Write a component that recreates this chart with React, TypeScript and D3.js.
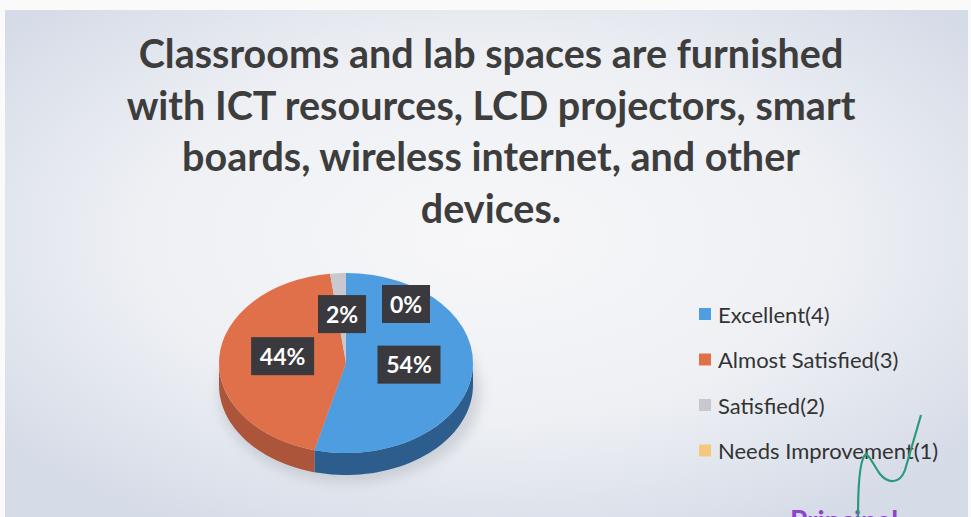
import React from 'react';
import * as d3 from 'd3';

const titleLines = [
  'Classrooms and lab spaces are furnished',
  'with ICT resources, LCD projectors, smart',
  'boards, wireless internet, and other',
  'devices.',
];
const categories = ['Excellent(4)', 'Almost Satisfied(3)', 'Satisfied(2)', 'Needs Improvement(1)'];
const values = [54, 44, 2, 0];
const colors = ['#4d9de0', '#e0704a', '#c8c8ce', '#f6c87e'];
const sideColors = ['#2c5d8c', '#ad553a', '#96969c', '#c89a50'];

export default function App() {
  const W = 971, H = 517;
  const cx = 346, cy = 363, rx = 127, ry = 90, depth = 22;
  const k = ry / rx;
  const pieData = d3.pie<number>().sort(null).value(d => d)(values);
  const total = d3.sum(values);
  const arc = d3.arc<d3.PieArcDatum<number>>().innerRadius(0).outerRadius(rx);

  const sidePath = (s: number, e: number) => {
    const a0 = Math.max(s, Math.PI / 2), a1 = Math.min(e, Math.PI * 1.5);
    if (a0 >= a1) return null;
    const n = 40;
    const angs = d3.range(n + 1).map(i => a0 + (a1 - a0) * i / n);
    const top = angs.map(a => [cx + rx * Math.sin(a), cy - ry * Math.cos(a)] as [number, number]);
    const bot = angs.slice().reverse().map(a => [cx + rx * Math.sin(a), cy - ry * Math.cos(a) + depth] as [number, number]);
    return d3.line()([...top, ...bot]) + 'Z';
  };

  const legendX = 699, legendY0 = 316, legendStep = 45.5;

  return (
    <svg width={W} height={H} style={{ position: 'absolute', left: 0, top: 0 }} fontFamily="Lato, 'Open Sans', sans-serif">
      <defs>
        <radialGradient id="bg" cx="50%" cy="45%" r="65%">
          <stop offset="0%" stopColor="#f7f7f9" />
          <stop offset="55%" stopColor="#eef0f4" />
          <stop offset="100%" stopColor="#d5dbe7" />
        </radialGradient>
        <filter id="blur" x="-30%" y="-30%" width="160%" height="160%">
          <feGaussianBlur stdDeviation="6" />
        </filter>
      </defs>
      <rect x={0} y={0} width={W} height={H} fill="#fafafa" />
      <rect x={5} y={10} width={W - 8} height={H - 10} fill="url(#bg)" />

      {titleLines.map((t, i) => (
        <text key={i} x={491} y={68 + i * 51.5} textAnchor="middle" fontWeight="bold" fontSize={39.5} fill="#3d3d3d">{t}</text>
      ))}

      {/* shadow */}
      <ellipse cx={cx + 4} cy={cy + depth + 8} rx={rx + 4} ry={ry} fill="#9aa0aa" opacity={0.35} filter="url(#blur)" />

      {/* sides */}
      {pieData.map((d, i) => {
        const p = sidePath(d.startAngle, d.endAngle);
        return p ? <path key={'s' + i} d={p} fill={sideColors[i]} /> : null;
      })}

      {/* top */}
      <g transform={`translate(${cx},${cy}) scale(1,${k})`}>
        {pieData.map((d, i) => (
          d.endAngle > d.startAngle ? <path key={'t' + i} d={arc(d) || ''} fill={colors[i]} /> : null
        ))}
      </g>

      {/* labels */}
      {pieData.map((d, i) => {
        const [x0, y0] = arc.centroid(d);
        const isZero = d.data === 0;
        const x = cx + x0 + (isZero ? 60 : 0);
        const y = cy + y0 * k + (isZero ? -14 : -4);
        const txt = Math.round((d.data / total) * 100) + '%';
        const w = txt.length * 15 + 18, h = 38;
        return (
          <g key={'l' + i}>
            <rect x={x - w / 2} y={y - h / 2} width={w} height={h} fill="#3a393d" />
            <text x={x} y={y + 8.5} textAnchor="middle" fontWeight="bold" fontSize={23} fill="#ffffff">{txt}</text>
          </g>
        );
      })}

      {/* legend */}
      {categories.map((c, i) => (
        <g key={'g' + i}>
          <rect x={legendX} y={legendY0 + i * legendStep - 8} width={12} height={12} fill={colors[i]} />
          <text x={legendX + 19} y={legendY0 + i * legendStep + 6.5} fontSize={22} fill="#333333">{c}</text>
        </g>
      ))}

      {/* signature / stamp remnants */}
      <text x={790} y={531} fontSize={28} fontWeight="bold" fill="#8b45c9">Principal</text>
      <path d="M921,415 L905,470 C900,484 888,484 880,474 C874,466 870,456 866,454 C860,458 858,480 858,517" fill="none" stroke="#2a9a7a" strokeWidth={2.2} />
    </svg>
  );
}
